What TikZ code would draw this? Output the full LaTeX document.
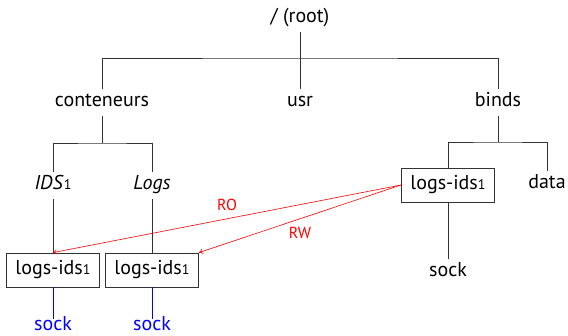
\documentclass[tikz,border=0pt]{standalone}
\usepackage{fontspec}
\setmainfont{PT Sans}
\usetikzlibrary{arrows.meta}

\begin{document}
\begin{tikzpicture}[x=1pt,y=-1pt]
	\tikzstyle{lbl} = [font=\fontsize{20}{24}\selectfont,text height=14pt,text depth=5pt,inner sep=3.5pt]
	\tikzstyle{dirbox} = [lbl,draw=black!80,line width=0.8pt,minimum width=93pt,minimum height=34pt,inner sep=0pt]
	\tikzstyle{branch} = [draw=black!80,line width=0.8pt]
	\tikzstyle{mount} = [draw=red,line width=0.6pt,-{To[length=4pt,width=5pt]}]
	\newcommand{\logsids}{logs-ids{\fontsize{14}{14}\selectfont 1}}
	\useasboundingbox (0,0) rectangle (568,336);
	% top level
	\node[lbl,anchor=base] (root) at (300,23) {/ (root)};
	\node[lbl,anchor=base] (conteneurs) at (102,107) {conteneurs};
	\node[lbl,anchor=base] (usr) at (300,107) {usr};
	\node[lbl,anchor=base] (binds) at (498,107) {binds};
	\coordinate (rootbar) at (300,58);
	\draw[branch] (root) -- (usr);
	\draw[branch] (conteneurs) |- (rootbar) -| (binds);
	% conteneurs
	\node[lbl,anchor=base] (ids) at (53,190) {\textit{IDS}{\fontsize{14}{14}\selectfont 1}};
	\node[lbl,anchor=base] (logs) at (152,190) {\textit{Logs}};
	\coordinate (contbar) at (102,143);
	\draw[branch] (conteneurs) -- (contbar);
	\draw[branch] (ids) |- (contbar) -| (logs);
	% binds
	\node[dirbox] (bindlogs) at (448,185) {\logsids};
	\node[lbl,anchor=base] (data) at (547,189) {data};
	\node[lbl,anchor=base] (bindsock) at (448,277) {sock};
	\coordinate (bindsbar) at (498,142);
	\draw[branch] (binds) -- (bindsbar);
	\draw[branch] (bindlogs) |- (bindsbar) -| (data);
	\draw[branch] (bindlogs) -- (bindsock);
	% mounted copies
	\foreach \x/\n/\p in {53/idslogs/ids,152/logslogs/logs} {
		\node[dirbox] (\n) at (\x,270) {\logsids};
		\draw[branch] (\p) -- (\n);
		\node[lbl,anchor=base,text=blue,text depth=0pt,inner sep=2pt] (\n sock) at (\x,331) {sock};
		\draw[draw=blue,line width=0.8pt] (\n) -- ([yshift=-4pt]\n sock.north);
	}
	% bind mounts
	\draw[mount] (bindlogs.west) -- node[pos=.5,above=4pt,text=red,font=\fontsize{16}{18}\selectfont]{RO} (idslogs.north);
	\draw[mount] (bindlogs.west) -- node[pos=.5,below=5pt,text=red,font=\fontsize{16}{18}\selectfont]{RW} (logslogs.north east);
\end{tikzpicture}
\end{document}
